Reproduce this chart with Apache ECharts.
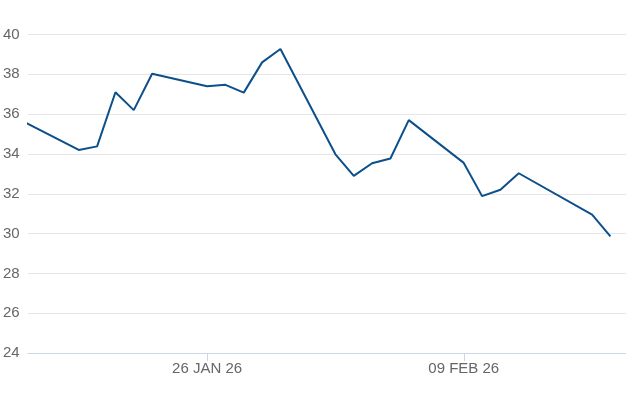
<!DOCTYPE html>
<html>
<head>
<meta charset="utf-8">
<style>
html,body{margin:0;padding:0;background:#fff;}
#chart{width:626px;height:417px;}
</style>
<script src="https://cdn.jsdelivr.net/npm/echarts@6/dist/echarts.min.js"></script>
</head>
<body>
<div id="chart"></div>
<script>
const dates = [
  "2026-01-16","2026-01-19","2026-01-20","2026-01-21","2026-01-22","2026-01-23",
  "2026-01-26","2026-01-27","2026-01-28","2026-01-29","2026-01-30",
  "2026-02-02","2026-02-03","2026-02-04","2026-02-05","2026-02-06",
  "2026-02-09","2026-02-10","2026-02-11","2026-02-12",
  "2026-02-16","2026-02-17"
];
const values = [
  35.62,34.2,34.38,37.1,36.2,38.03,
  37.4,37.47,37.08,38.6,39.27,
  33.98,32.9,33.53,33.77,35.7,
  33.55,31.88,32.2,33.03,
  30.95,29.86
];
const tickDates = ["2026-01-26","2026-02-09"];
const yTicks = [24,26,28,30,32,34,36,38,40];

const DAY = 86400000;
function ts(s){ const p = s.split('-').map(Number); return Date.UTC(p[0], p[1]-1, p[2]); }
const MONTHS = ["JAN","FEB","MAR","APR","MAY","JUN","JUL","AUG","SEP","OCT","NOV","DEC"];
function fmt(v){
  const d = new Date(v);
  const dd = String(d.getUTCDate()).padStart(2,'0');
  const yy = String(d.getUTCFullYear()).slice(2);
  return dd + ' ' + MONTHS[d.getUTCMonth()] + ' ' + yy;
}
const tickTs = tickDates.map(ts);
const xMin = tickTs[0] - 9.77*DAY;
const xMax = xMin + 32.62*DAY;

const chart = echarts.init(document.getElementById('chart'), null, {renderer:'canvas'});
chart.setOption({
  animation:false,
  backgroundColor:'#ffffff',
  grid:{left:28,right:0,top:34.5,bottom:64,containLabel:false},
  xAxis:{
    type:'value',
    min:xMin,
    max:xMax,
    axisLine:{show:true,lineStyle:{color:'#ccd6eb',width:1}},
    axisTick:{show:true,customValues:tickTs,length:8,lineStyle:{color:'#ccd6eb'}},
    axisLabel:{
      show:true,
      customValues:tickTs,
      formatter:function(v){return fmt(v);},
      color:'#666666',
      fontFamily:'"Liberation Sans",Arial,sans-serif',
      fontSize:15,
      margin:8
    },
    splitLine:{show:false}
  },
  yAxis:{
    type:'value',
    min:yTicks[0],
    max:yTicks[yTicks.length-1],
    interval:2,
    axisLine:{show:false},
    axisTick:{show:false},
    axisLabel:{
      color:'#666666',
      fontFamily:'"Liberation Sans",Arial,sans-serif',
      fontSize:15,
      align:'left',
      margin:25
    },
    splitLine:{show:true,lineStyle:{color:'#e6e6e6',width:1}}
  },
  series:[{
    type:'line',
    data:dates.map((d,i)=>[ts(d),values[i]]),
    showSymbol:false,
    symbol:'none',
    clip:true,
    lineStyle:{color:'#0d4f8b',width:2},
    itemStyle:{color:'#0d4f8b'}
  }]
});
</script>
</body>
</html>
